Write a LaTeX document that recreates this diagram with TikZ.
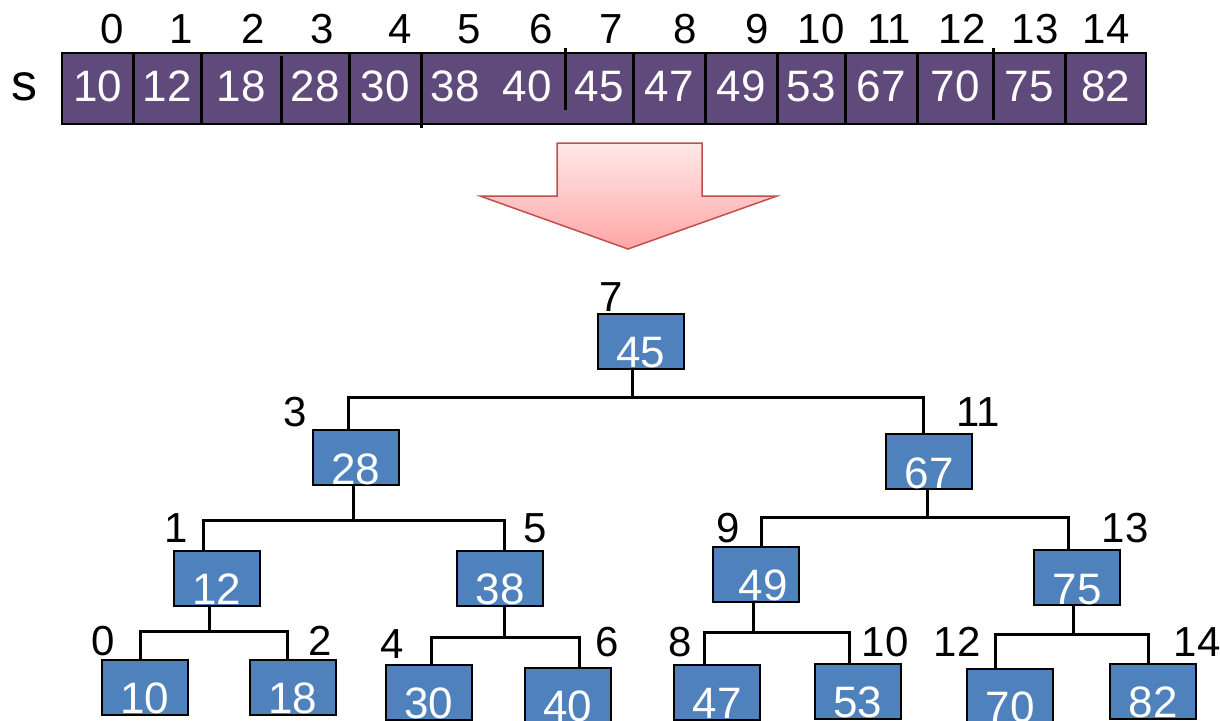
\documentclass[tikz,border=0pt]{standalone}
\usepackage{fontspec}
\setmainfont{Liberation Sans}
\definecolor{cellpurple}{HTML}{604A7B}
\definecolor{boxblue}{HTML}{4F81BD}
\definecolor{arrowred}{HTML}{C0504D}
\definecolor{arrowtop}{HTML}{FFE8E8}
\definecolor{arrowbot}{HTML}{FFA6A6}
\tikzset{
  cell/.style={fill=cellpurple, text=white, font=\fontsize{44}{48}\selectfont,
    minimum height=71pt, inner sep=1pt, text height=47pt, text depth=22pt, anchor=west},
  idx/.style={font=\fontsize{42}{46}\selectfont, anchor=base, inner sep=0pt},
  tbox/.style={draw=black, line width=2pt, fill=boxblue, text=white,
    font=\fontsize{44}{48}\selectfont, minimum width=86pt, minimum height=55pt,
    inner sep=1pt, text height=53pt, text depth=0pt},
  tlabel/.style={font=\fontsize{42}{46}\selectfont, inner sep=0pt},
  link/.style={line width=3pt, line join=miter},
  divider/.style={line width=3pt}
}
\begin{document}
\begin{tikzpicture}[x=1pt,y=-1pt]
\clip (0,0) rectangle (1220,720);
\fill[white] (0,0) rectangle (1220,720);

% ---- array ----
\node[font=\fontsize{52}{56}\selectfont, anchor=base, inner sep=0pt] (slabel) at (25,100) {s};
\foreach \l/\r/\v in {62/133/10,133/201/12,201/281/18,281/349/28,349/421/30,421/489/38,
  489/565/40,565/633/45,633/705/47,705/777/49,777/845/53,845/917/67,917/993/70,
  993/1065/75,1065/1146/82}{
  \node[cell, minimum width={\r pt-\l pt}] (c\v) at (\l,88.5) {\v};
}
\draw[line width=2pt] (62,53) rectangle (1146,124);
\foreach \x in {133,201,349,633,705,777,845,917,1065}{
  \draw[divider] (\x,53) -- (\x,124);
}
\draw[divider] (281,56) -- (281,125);
\draw[divider] (421,53) -- (421,128);
\draw[divider] (565,48) -- (565,110);
\draw[divider] (993,48) -- (993,120);
\foreach \x/\i in {112/0,181/1,253/2,322/3,400/4,469/5,541/6,611/7,685/8,757/9,
  821/10,889/11,962/12,1035/13,1106/14}{
  \node[idx] (i\i) at (\x,43) {\i};
}

% ---- arrow ----
\draw[arrowred, line width=1.5pt, top color=arrowtop, bottom color=arrowbot]
  (557,143) -- (702,143) -- (702,196) -- (777,196) -- (628,249) -- (480,196) -- (557,196) -- cycle;

% ---- tree nodes ----
\node[tbox] (n45) at (640.5,341) {45};
\node[tbox] (n28) at (356,457.5) {28};
\node[tbox] (n67) at (929,461.5) {67};
\node[tbox] (n12) at (216.5,578) {12};
\node[tbox] (n38) at (500,578) {38};
\node[tbox] (n49) at (756,574) {\hspace{14pt}49};
\node[tbox] (n75) at (1077,577.5) {75};
\node[tbox] (n10) at (144.5,687) {10};
\node[tbox] (n18) at (292.5,687) {18};
\node[tbox] (n30) at (429,692) {30};
\node[tbox] (n40) at (567.5,695) {40};
\node[tbox] (n47) at (717,692) {47};
\node[tbox] (n53) at (857.5,691) {53};
\node[tbox] (n70) at (1010,696) {70};
\node[tbox] (n82) at (1153,691) {82};

% ---- tree index labels ----
\foreach \x/\y/\t in {611/297/7,295/412/3,978/412/11,176/528/1,535/528/5,728/528/9,
  1125/528/13,103/641/0,320/641/2,392/644/4,607/642/6,680/642/8,885/642/10,
  957/642/12,1197/642/14}{
  \node[tlabel] (t\t) at (\x,\y) {\t};
}

% ---- connectors ----
\foreach \p/\a/\b/\jx/\lx/\rx/\y in {45/28/67/632/348/923/397,
  28/12/38/353/203/504/520, 67/49/75/927/761/1068/517,
  12/10/18/209/140/287/631, 38/30/40/504/431/579/637,
  49/47/53/753/704/849/632, 75/70/82/1073/995/1148/634}{
  \coordinate (j\p) at (\jx,\y);
  \coordinate (bl\p) at (\lx,\y);
  \coordinate (br\p) at (\rx,\y);
  \draw[link] (n\p.south -| j\p) -- (j\p);
  \draw[link] (bl\p |- n\a.north) -- (bl\p) -- (br\p) -- (br\p |- n\b.north);
}
\end{tikzpicture}
\end{document}
